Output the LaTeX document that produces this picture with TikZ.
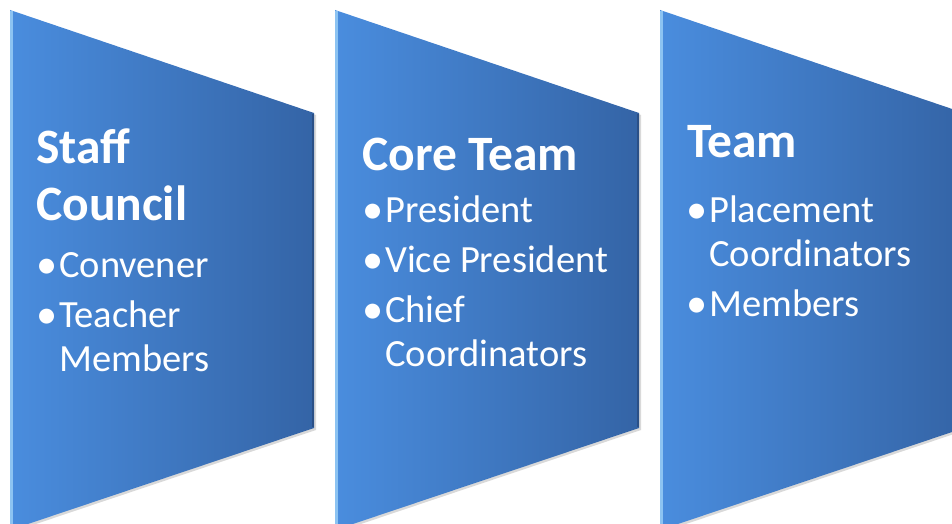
\documentclass[tikz,border=0pt]{standalone}
\usepackage{fontspec}
\usepackage{graphicx}
\setmainfont{Carlito}
\usetikzlibrary{shadows}
\definecolor{stageleft}{RGB}{74,141,222}
\definecolor{stageright}{RGB}{52,100,166}
\definecolor{bevellight}{RGB}{140,195,242}
\definecolor{beveldark}{RGB}{38,72,122}

\newcommand\bul{\makebox[23pt][l]{\makebox[0pt][l]{\raisebox{-1.5pt}{\scalebox{1.1}{\textbullet}}}}}

\begin{document}
\begin{tikzpicture}[x=1pt,y=-1pt,
  stage/.style = {left color=stageleft, right color=stageright,
    drop shadow={shadow xshift=2pt, shadow yshift=-2pt, opacity=0.3}},
  edgelight/.style = {line width=2.5pt, bevellight},
  edgedark/.style = {line width=2pt, beveldark, opacity=0.7},
  heading/.style = {anchor=base west, inner sep=0pt, text=white,
    font=\bfseries\fontsize{49.5}{57}\selectfont},
  items/.style = {anchor=base west, inner sep=0pt, text=white,
    font=\fontsize{38.5}{44}\selectfont},
]

  \useasboundingbox (0,0) rectangle (952,524);

  % stages
  \shade[stage] (10,10) -- (314,113) -- (314,428) -- (10,530) -- cycle;
  \shade[stage] (335,10) -- (639,113) -- (639,428) -- (335,530) -- cycle;
  \shade[stage] (660,10) -- (964,113) -- (964,428) -- (660,530) -- cycle;

  % bevels
  \draw[edgelight] (11.5,11) -- (11.5,529);
  \draw[edgelight] (336.5,11) -- (336.5,529);
  \draw[edgelight] (661.5,11) -- (661.5,529);
  \draw[edgedark] (313,114) -- (313,427);
  \draw[edgedark] (638,114) -- (638,427);

  % texts
  \node[heading] (staff) at (36,163)
    {\begin{tabular}[t]{@{}l@{}}Staff\\Council\end{tabular}};
  \node[items] (stafflist) at (36,277)
    {\begin{tabular}[t]{@{}l@{}l@{}}
      \bul & Convener\\[6pt]
      \bul & Teacher\\
           & Members
    \end{tabular}};

  \node[heading] (core) at (362,170) {Core Team};
  \node[items] (corelist) at (362,222)
    {\begin{tabular}[t]{@{}l@{}l@{}}
      \bul & President\\[6pt]
      \bul & Vice President\\[6pt]
      \bul & Chief\\
           & Coordinators
    \end{tabular}};

  \node[heading] (team) at (687,157) {Team};
  \node[items] (teamlist) at (686,222)
    {\begin{tabular}[t]{@{}l@{}l@{}}
      \bul & Placement\\
           & Coordinators\\[6pt]
      \bul & Members
    \end{tabular}};

\end{tikzpicture}
\end{document}
